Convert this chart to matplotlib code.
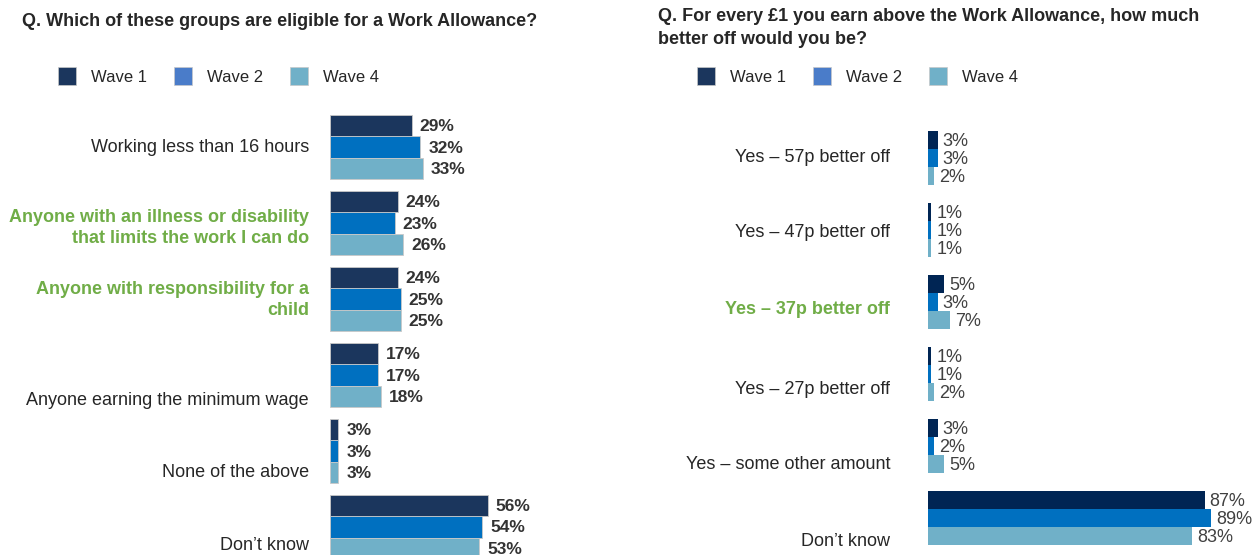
import numpy as np
import matplotlib.pyplot as plt
from matplotlib.patches import Patch
from matplotlib.transforms import offset_copy

plt.rcParams['font.family'] = ['Liberation Sans', 'DejaVu Sans']

# eligibility question
elig_cats = ['Working less than 16 hours',
             'Anyone with an illness or disability\nthat limits the work I can do',
             'Anyone with responsibility for a\nchild',
             'Anyone earning the minimum wage',
             'None of the above',
             'Don\u2019t know']
elig_w1 = [29, 24, 24, 17, 3, 56]
elig_w2 = [32, 23, 25, 17, 3, 54]
elig_w4 = [33, 26, 25, 18, 3, 53]
elig_green = [False, True, True, False, False, False]

# taper question
taper_cats = ['Yes \u2013 57p better off',
              'Yes \u2013 47p better off',
              'Yes \u2013 37p better off',
              'Yes \u2013 27p better off',
              'Yes \u2013 some other amount',
              'Don\u2019t know']
taper_w1 = [3, 1, 5, 1, 3, 87]
taper_w2 = [3, 1, 3, 1, 2, 89]
taper_w4 = [2, 1, 7, 2, 5, 83]
taper_green = [False, False, True, False, False, False]

waves = ['Wave 1', 'Wave 2', 'Wave 4']
legend_cols = ['#1b365d', '#4a7cc9', '#70b0c8']
green = '#70ad47'
txt = '#262626'

W, H = 1260, 555
fig = plt.figure(figsize=(W / 100, H / 100), dpi=100)


def px_axes(x0, x1, y_top, y_bot):
    return fig.add_axes([x0 / W, 1 - y_bot / H, (x1 - x0) / W, (y_bot - y_top) / H])


def draw(ax, cats, vals, cols, bh, green_flags, label_dy, lab_pad, val_pad, bold, edge):
    y = np.arange(len(cats))
    for k, (v, c) in enumerate(zip(vals, cols)):
        yy = y + (k - 1) * bh
        ax.barh(yy, v, height=bh, color=c, edgecolor=edge, linewidth=0.6 if edge else 0)
        for yi, vi in zip(yy, v):
            t = offset_copy(ax.transData, fig=fig, x=val_pad, y=-1, units='dots')
            ax.text(vi, yi, f'{vi}%', transform=t, ha='left', va='center',
                    fontsize=12.5 if bold else 13, fontweight='bold' if bold else 'normal',
                    color='#333333' if bold else '#404040')
    lt = offset_copy(ax.get_yaxis_transform(), fig=fig, x=-lab_pad, y=0, units='dots')
    for i, (c, g) in enumerate(zip(cats, green_flags)):
        ax.text(0, i + label_dy[i], c, transform=lt, ha='right', va='center',
                fontsize=13, color=green if g else txt,
                fontweight='bold' if g else 'normal', linespacing=1.3,
                multialignment='right')
    ax.set_xlim(0, 100)
    ax.axis('off')


# left panel
ax1 = px_axes(330, 612, 147 - 0.55 * 76, 147 + 5.55 * 76)
ax1.set_ylim(5.55, -0.55)
draw(ax1, elig_cats, [elig_w1, elig_w2, elig_w4],
     ['#1b365d', '#0070c0', '#70b0c8'], 0.285, elig_green,
     [0, 0.07, 0.01, 0.34, 0.28, 0.24], 21, 8, True, '#c8c8c8')

# right panel
ax2 = px_axes(928, 1246, 158 - 0.6 * 72, 158 + 5.6 * 72)
ax2.set_ylim(5.6, -0.6)
draw(ax2, taper_cats, [taper_w1, taper_w2, taper_w4],
     ['#002554', '#0070c0', '#70b0c8'], 0.25, taper_green,
     [0, 0.04, 0.1, 0.21, 0.26, 0.32], 38, 5, False, None)

fig.text(22 / W, 1 - 22 / H, 'Q. Which of these groups are eligible for a Work Allowance?',
         fontsize=13, fontweight='bold', color=txt, va='center', ha='left')
fig.text(658 / W, 1 - 28 / H,
         'Q. For every \u00a31 you earn above the Work Allowance, how much\nbetter off would you be?',
         fontsize=13, fontweight='bold', color=txt, va='center', ha='left', linespacing=1.45)

handles = [Patch(facecolor=c, edgecolor='#c8c8c8', linewidth=0.5) for c in legend_cols]
for x0 in (43, 682):
    fig.legend(handles, waves, loc='center left', bbox_to_anchor=(x0 / W, 1 - 76 / H),
               ncol=3, frameon=False, fontsize=12, handlelength=1.1, handleheight=1.3,
               handletextpad=0.9, columnspacing=1.6, labelcolor=txt)

fig.savefig('out.png', dpi=100)
